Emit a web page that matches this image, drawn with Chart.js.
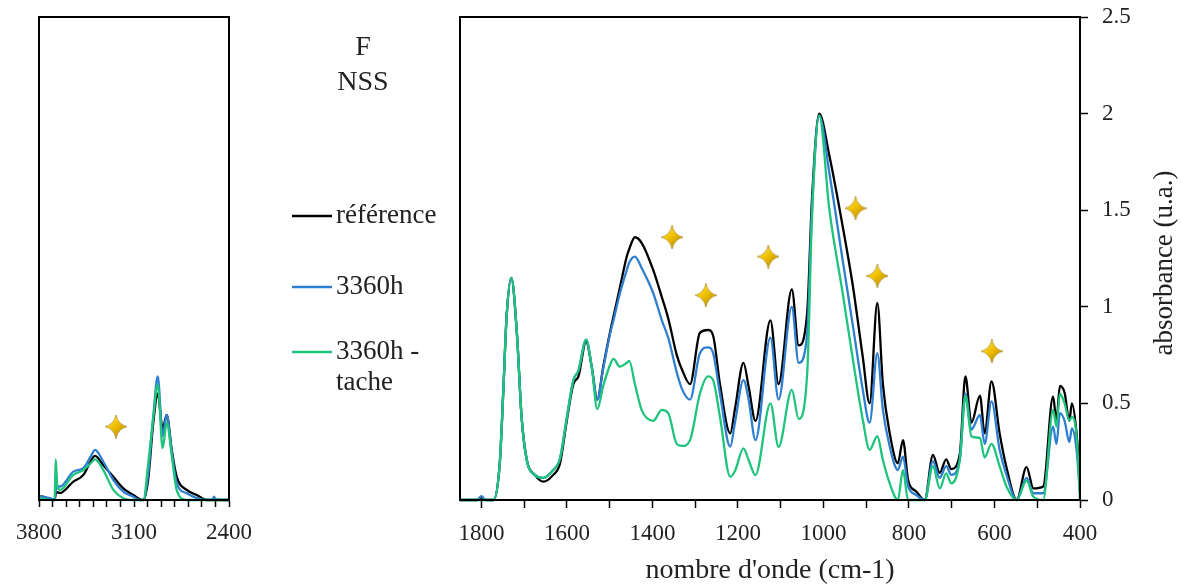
<!DOCTYPE html>
<html lang="fr">
<head>
<meta charset="UTF-8">
<title>F NSS - spectres IR</title>
<script src="https://cdn.jsdelivr.net/npm/chart.js"></script>
<style>
  html, body { margin: 0; padding: 0; background: #fff; }
  .wrap { position: relative; width: 1181px; height: 587px; overflow: hidden; }
  #left { position: absolute; left: 0; top: 0; }
  #right { position: absolute; left: 440px; top: 0; }
</style>
</head>
<body>
<div class="wrap">
  <canvas id="left" width="440" height="587"></canvas>
  <canvas id="right" width="741" height="587"></canvas>
</div>
<script>
// series names / colours
const seriesNames = ['référence', '3360h', '3360h - tache'];
const seriesColors = ['#000000', '#2f7fd1', '#1fc37c'];

// right panel : 1850 -> 400 cm-1
const waveR = [1850, 1810, 1800, 1790, 1772, 1757, 1749, 1741, 1730, 1717, 1706, 1694, 1675, 1655, 1632, 1616, 1601, 1585, 1573, 1555, 1542, 1529, 1515, 1499, 1491, 1476, 1460, 1454, 1441, 1425, 1398, 1378, 1363, 1343, 1330, 1312, 1289, 1270, 1258, 1242, 1218, 1207, 1187, 1175, 1159, 1124, 1105, 1074, 1058, 1038, 1027, 1010, 986, 955, 931, 908, 892, 874, 861, 845, 826, 814, 802, 783, 763, 744, 728, 713, 701, 681, 668, 654, 634, 623, 607, 588, 572, 548, 525, 509, 486, 463, 455, 447, 436, 425, 419, 408, 400];
const refR = [0, 0, 0.01, 0, 0, 0.19, 0.55, 0.95, 1.15, 0.865, 0.43, 0.21, 0.13, 0.095, 0.13, 0.19, 0.40, 0.60, 0.64, 0.82, 0.69, 0.52, 0.69, 0.87, 0.95, 1.10, 1.26, 1.30, 1.36, 1.33, 1.19, 1.05, 0.94, 0.75, 0.67, 0.60, 0.865, 0.88, 0.85, 0.60, 0.345, 0.47, 0.71, 0.587, 0.41, 0.93, 0.60, 1.09, 0.80, 0.97, 1.55, 2.0, 1.78, 1.416, 1.105, 0.74, 0.50, 1.02, 0.60, 0.345, 0.19, 0.31, 0.104, 0.044, 0, 0.233, 0.14, 0.21, 0.16, 0.24, 0.64, 0.40, 0.54, 0.345, 0.614, 0.345, 0.17, 0, 0.17, 0.06, 0.07, 0.536, 0.41, 0.59, 0.555, 0.41, 0.50, 0.345, 0.086];
const h3360R = [0, 0, 0.02, 0, 0, 0.19, 0.55, 0.95, 1.15, 0.865, 0.43, 0.21, 0.13, 0.115, 0.155, 0.216, 0.415, 0.62, 0.67, 0.83, 0.69, 0.52, 0.68, 0.86, 0.93, 1.07, 1.19, 1.23, 1.26, 1.20, 1.07, 0.93, 0.84, 0.66, 0.57, 0.52, 0.76, 0.79, 0.76, 0.55, 0.276, 0.40, 0.62, 0.52, 0.31, 0.84, 0.52, 1.0, 0.71, 0.86, 1.50, 1.99, 1.69, 1.24, 0.90, 0.57, 0.40, 0.76, 0.466, 0.277, 0.155, 0.225, 0.07, 0.026, 0, 0.20, 0.115, 0.175, 0.13, 0.21, 0.55, 0.365, 0.44, 0.29, 0.51, 0.26, 0.13, 0, 0.115, 0.035, 0.035, 0.38, 0.29, 0.45, 0.41, 0.30, 0.37, 0.26, 0.035];
const tacheR = [0, 0, 0, 0, 0, 0.19, 0.55, 0.95, 1.15, 0.865, 0.43, 0.21, 0.13, 0.115, 0.155, 0.216, 0.415, 0.62, 0.67, 0.83, 0.69, 0.47, 0.59, 0.70, 0.73, 0.69, 0.71, 0.72, 0.60, 0.465, 0.41, 0.466, 0.45, 0.29, 0.28, 0.31, 0.55, 0.64, 0.62, 0.43, 0.12, 0.15, 0.267, 0.207, 0.129, 0.50, 0.275, 0.57, 0.42, 0.655, 1.45, 1.99, 1.50, 1.07, 0.725, 0.415, 0.26, 0.33, 0.207, 0.086, 0, 0.155, 0, 0, 0, 0.175, 0.06, 0.138, 0.086, 0.21, 0.54, 0.33, 0.32, 0.22, 0.29, 0.175, 0.07, 0, 0.10, 0.017, 0, 0.466, 0.38, 0.55, 0.50, 0.41, 0.43, 0.33, 0];

// left panel : 3800 -> 2400 cm-1
const waveL = [3800, 3760, 3700, 3685, 3677, 3665, 3645, 3547, 3473, 3420, 3387, 3326, 3252, 3179, 3105, 3060, 3031, 2995, 2958, 2925, 2889, 2859, 2822, 2785, 2712, 2638, 2564, 2520, 2510, 2500, 2400];
const refL = [0.02, 0.015, 0, 0, 0.03, 0.04, 0.036, 0.095, 0.13, 0.20, 0.228, 0.18, 0.12, 0.06, 0.026, 0.005, 0, 0.11, 0.40, 0.55, 0.37, 0.44, 0.26, 0.12, 0.052, 0.026, 0, 0, 0, 0, 0];
const h3360L = [0.02, 0.015, 0.005, 0, 0.05, 0.07, 0.07, 0.147, 0.165, 0.224, 0.259, 0.198, 0.103, 0.043, 0.017, 0, 0, 0.14, 0.43, 0.64, 0.33, 0.44, 0.25, 0.086, 0.035, 0.01, 0, 0.005, 0.017, 0.005, 0];
const tacheL = [0.01, 0.005, 0, 0, 0.21, 0.07, 0.052, 0.13, 0.155, 0.19, 0.21, 0.155, 0.052, 0.009, 0, 0, 0, 0.19, 0.43, 0.60, 0.268, 0.40, 0.23, 0.05, 0, 0, 0, 0, 0, 0, 0];

// star markers
const starXR = [1354, 1275, 1129, 925, 874, 606];
const starYR = [1.36, 1.06, 1.26, 1.51, 1.16, 0.77];
const starXL = [3233];
const starYL = [0.38];

const yTicks = [0, 0.5, 1, 1.5, 2, 2.5];

const FONT = '"Liberation Serif", "Times New Roman", serif';

// gold four-point star used as point style
function makeStar() {
  const c = document.createElement('canvas');
  c.width = 22; c.height = 24;
  const g = c.getContext('2d');
  const cx = 11, cy = 12;
  g.beginPath();
  g.moveTo(cx, 0);
  g.quadraticCurveTo(cx + 2, cy - 2, 22, cy);
  g.quadraticCurveTo(cx + 2, cy + 2, cx, 24);
  g.quadraticCurveTo(cx - 2, cy + 2, 0, cy);
  g.quadraticCurveTo(cx - 2, cy - 2, cx, 0);
  g.closePath();
  const grd = g.createLinearGradient(0, 0, 22, 24);
  grd.addColorStop(0, '#fff07a');
  grd.addColorStop(0.45, '#f2c200');
  grd.addColorStop(1, '#a87d00');
  g.fillStyle = grd;
  g.fill();
  g.strokeStyle = 'rgba(140,100,0,0.6)';
  g.lineWidth = 0.8;
  g.stroke();
  return c;
}
const starImg = makeStar();

function pts(xs, ys) {
  return xs.map((x, i) => ({ x: x, y: ys[i] }));
}

function lineSets(xs, lists) {
  return lists.map((ys, i) => ({
    label: seriesNames[i],
    data: pts(xs, ys),
    borderColor: seriesColors[i],
    borderWidth: 2.3,
    pointRadius: 0,
    cubicInterpolationMode: 'monotone',
    clip: 3,
    order: 3 - i
  }));
}

function starSet(xs, ys) {
  return {
    label: 'stars',
    data: pts(xs, ys),
    showLine: false,
    pointStyle: starImg,
    pointRadius: 11,
    order: 0
  };
}

const frame = {
  id: 'frame',
  afterDatasetsDraw(chart) {
    const a = chart.chartArea, ctx = chart.ctx;
    ctx.save();
    ctx.strokeStyle = '#000';
    ctx.lineWidth = 2;
    ctx.strokeRect(a.left, a.top, a.right - a.left, a.bottom - a.top);
    ctx.restore();
  }
};

const legendText = {
  id: 'legendText',
  afterDraw(chart) {
    const ctx = chart.ctx;
    ctx.save();
    ctx.fillStyle = '#222';
    ctx.textAlign = 'center';
    ctx.textBaseline = 'middle';
    ctx.font = '28px ' + FONT;
    ctx.fillText('F', 363, 48);
    ctx.fillText('NSS', 363, 83);
    const rows = [216, 287, 352];
    ctx.font = '27px ' + FONT;
    ctx.textAlign = 'left';
    rows.forEach((y, i) => {
      ctx.strokeStyle = seriesColors[i];
      ctx.lineWidth = 2.3;
      ctx.beginPath();
      ctx.moveTo(292, y);
      ctx.lineTo(332, y);
      ctx.stroke();
    });
    ctx.fillText(seriesNames[0], 336, 216);
    ctx.fillText(seriesNames[1], 336, 287);
    ctx.fillText('3360h -', 336, 352);
    ctx.fillText('tache', 336, 383);
    ctx.restore();
  }
};

const yTitle = {
  id: 'yTitle',
  afterDraw(chart) {
    const ctx = chart.ctx;
    ctx.save();
    ctx.translate(725, 263);
    ctx.rotate(-Math.PI / 2);
    ctx.fillStyle = '#222';
    ctx.font = '27px ' + FONT;
    ctx.textAlign = 'center';
    ctx.textBaseline = 'middle';
    ctx.fillText('absorbance (u.a.)', 0, 0);
    ctx.restore();
  }
};

const tickFont = { family: FONT, size: 23 };

new Chart(document.getElementById('left'), {
  type: 'line',
  data: { datasets: [starSet(starXL, starYL)].concat(lineSets(waveL, [refL, h3360L, tacheL])) },
  options: {
    responsive: false,
    animation: false,
    layout: { padding: { left: 39, right: 211, top: 17, bottom: 0 } },
    plugins: { legend: { display: false }, tooltip: { enabled: false } },
    scales: {
      x: {
        type: 'linear',
        reverse: true,
        min: 2400,
        max: 3800,
        afterFit(s) { s.height = 87; s.paddingLeft = 0; s.paddingRight = 0; },
        ticks: {
          stepSize: 100,
          autoSkip: false,
          maxRotation: 0,
          padding: 12,
          color: '#222',
          font: tickFont,
          callback: v => ((v - 2400) % 700 === 0 ? String(v) : '')
        },
        grid: { drawOnChartArea: false, tickLength: 7, tickColor: '#000', tickWidth: 1.5 },
        border: { color: '#000', width: 2 }
      },
      y: { display: false, min: 0, max: 2.5 }
    }
  },
  plugins: [frame, legendText]
});

new Chart(document.getElementById('right'), {
  type: 'line',
  data: { datasets: [starSet(starXR, starYR)].concat(lineSets(waveR, [refR, h3360R, tacheR])) },
  options: {
    responsive: false,
    animation: false,
    layout: { padding: { left: 20, right: 0, top: 17, bottom: 0 } },
    plugins: { legend: { display: false }, tooltip: { enabled: false } },
    scales: {
      x: {
        type: 'linear',
        reverse: true,
        min: 400,
        max: 1850,
        afterFit(s) { s.height = 87; s.paddingLeft = 0; s.paddingRight = 0; },
        ticks: {
          stepSize: 100,
          includeBounds: false,
          autoSkip: false,
          maxRotation: 0,
          padding: 12,
          color: '#222',
          font: tickFont,
          callback: v => (v % 200 === 0 ? String(v) : '')
        },
        title: {
          display: true,
          text: "nombre d'onde (cm-1)",
          color: '#222',
          font: { family: FONT, size: 28 },
          padding: { top: 0, bottom: 0 }
        },
        grid: { drawOnChartArea: false, tickLength: 8, tickColor: '#000', tickWidth: 1.5 },
        border: { color: '#000', width: 2 }
      },
      y: {
        position: 'right',
        min: 0,
        max: 2.5,
        afterFit(s) { s.width = 101; s.paddingTop = 0; s.paddingBottom = 0; },
        afterBuildTicks(s) { s.ticks = yTicks.map(v => ({ value: v })); },
        ticks: {
          padding: 14,
          color: '#222',
          font: tickFont,
          callback: v => String(v)
        },
        grid: { drawOnChartArea: false, tickLength: 8, tickColor: '#000', tickWidth: 1.5 },
        border: { color: '#000', width: 2 }
      }
    }
  },
  plugins: [frame, yTitle]
});
</script>
</body>
</html>
